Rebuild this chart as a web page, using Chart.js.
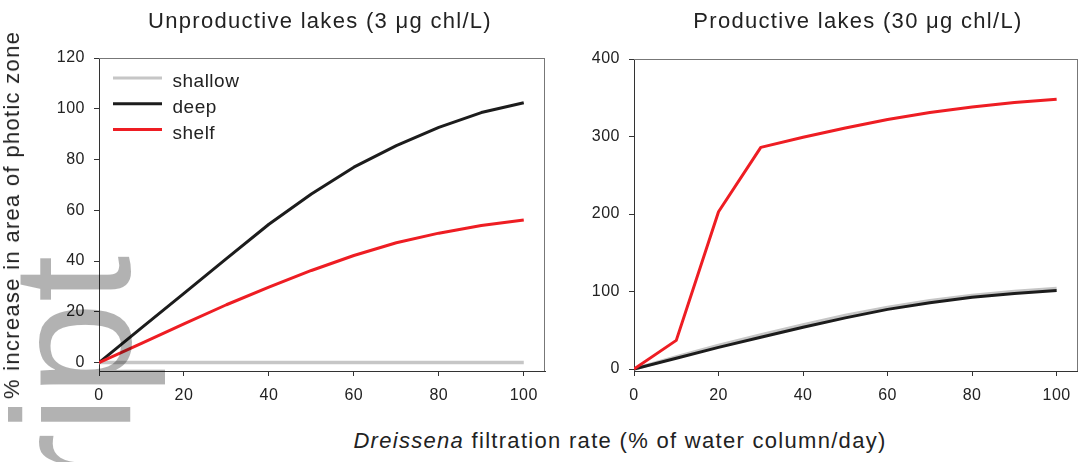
<!DOCTYPE html>
<html><head><meta charset="utf-8">
<script src="https://cdn.jsdelivr.net/npm/chart.js@4.4.1/dist/chart.umd.min.js"></script>
<style>
html,body{margin:0;padding:0;background:#fff;overflow:hidden;width:1078px;height:462px;}
body{position:relative;font-family:"Liberation Sans",Arial,sans-serif;color:#222;}
canvas{position:absolute;top:0;z-index:1;}
.t{position:absolute;font-size:22px;line-height:22px;letter-spacing:1.3px;white-space:nowrap;z-index:2;}
.ctr{transform:translateX(-50%);}
#ytitle{left:12.4px;top:215px;transform:translate(-50%,-50%) rotate(-90deg);}
#wm{position:absolute;left:-12.2px;top:489.3px;transform-origin:0 0;transform:rotate(-90deg);font-size:168px;line-height:168px;color:rgba(0,0,0,0.3);white-space:nowrap;z-index:3;pointer-events:none;}
</style></head>
<body>
<canvas id="c1" width="560" height="400" style="left:0px"></canvas>
<canvas id="c2" width="520" height="400" style="left:560px"></canvas>
<div class="t ctr" style="left:320px;top:10px">Unproductive lakes (3 μg chl/L)</div>
<div class="t ctr" style="left:858px;top:10px">Productive lakes (30 μg chl/L)</div>
<div class="t" id="ytitle">% increase in area of photic zone</div>
<div class="t ctr" style="left:620px;top:430px"><i>Dreissena</i> filtration rate (% of water column/day)</div>
<div id="wm">ript</div>
<script>
const xRates = [0,10,20,30,40,50,60,70,80,90,100];
const seriesLabels = ['shallow','deep','shelf'];
const unprodShallow = [0,0,0,0,0,0,0,0,0,0,0];
const unprodDeep = [0,13.7,27.3,41,54.5,66.4,77,85.5,92.7,98.5,102.4];
const unprodShelf = [0,7.6,15.3,22.8,29.7,36.3,42.2,47.2,51,54,56.2];
const prodShallow = [0,15.5,30.5,44,57,69,79.5,88,95,100,104];
const prodDeep = [0,14,28,41,54,66,77,85.5,92.5,97.5,101.5];
const prodShelf = [0,37,203,286,299,311,322,331,338,344,348];
const xTicks = [0,20,40,60,80,100];
const yTicksUnprod = [0,20,40,60,80,100,120];
const yTicksProd = [0,100,200,300,400];

const colors = ['#c6c6c6','#1c1c1c','#ee1d23'];
const widths = [3.5,3,3];
const FONT = 'Liberation Sans';

function pts(arr){ return xRates.map((x,i)=>({x:x,y:arr[i]})); }

const spacingPlugin = {
  id:'spacing',
  beforeDraw(chart){ chart.ctx.letterSpacing = '0.5px'; }
};
const framePlugin = {
  id:'frame',
  afterDraw(chart){
    const a = chart.chartArea, ctx = chart.ctx;
    ctx.save();
    ctx.strokeStyle = '#777'; ctx.lineWidth = 1;
    ctx.beginPath();
    ctx.moveTo(a.left, Math.round(a.top)+0.5);
    ctx.lineTo(a.right, Math.round(a.top)+0.5);
    ctx.moveTo(Math.round(a.right)-0.5, a.top);
    ctx.lineTo(Math.round(a.right)-0.5, a.bottom);
    ctx.stroke();
    ctx.restore();
  }
};
const legendPlugin = {
  id:'inlegend',
  afterDraw(chart, args, opts){
    if(!opts || !opts.show) return;
    const ctx = chart.ctx;
    ctx.save();
    ctx.letterSpacing = '0.5px';
    ctx.font = '19px "' + FONT + '"';
    ctx.textBaseline = 'alphabetic';
    ctx.textAlign = 'left';
    chart.data.datasets.forEach((ds,i)=>{
      const y = 78 + i*25.8;
      ctx.strokeStyle = ds.borderColor; ctx.lineWidth = 3;
      ctx.beginPath(); ctx.moveTo(113,y); ctx.lineTo(162,y); ctx.stroke();
      ctx.fillStyle = '#222';
      ctx.fillText(ds.label, 172.5, y+9);
    });
    ctx.restore();
  }
};

function makeChart(id, series, yMin, yMax, yTicks, yAxisWidth, padTop, padRight, showLegend){
  const datasets = series.map((s,i)=>({
    label: seriesLabels[i],
    data: pts(s),
    borderColor: colors[i],
    backgroundColor: colors[i],
    borderWidth: widths[i],
    pointRadius: 0,
    tension: 0,
    fill: false,
    order: 3 - i,
    borderCapStyle: 'butt',
    borderJoinStyle: 'round'
  }));
  const axisCommon = {
    grid:{drawOnChartArea:false, drawTicks:true, tickLength:5, color:'#333', tickColor:'#333', lineWidth:1},
    border:{display:true, color:'#333', width:1}
  };
  return new Chart(document.getElementById(id), {
    type:'line',
    data:{datasets},
    options:{
      responsive:false, animation:false, devicePixelRatio:1,
      layout:{padding:{top:padTop, right:padRight, left:0, bottom:0}},
      plugins:{legend:{display:false}, tooltip:{enabled:false}, title:{display:false}, inlegend:{show:showLegend}},
      scales:{
        x:Object.assign({
          type:'linear', min:0, max:105,
          afterBuildTicks(s){ s.ticks = xTicks.map(v=>({value:v})); },
          afterFit(s){ s.height = 29; },
          ticks:{color:'#222', font:{size:16, family:FONT}, padding:10, maxRotation:0, autoSkip:false}
        }, axisCommon),
        y:Object.assign({
          type:'linear', min:yMin, max:yMax,
          afterBuildTicks(s){ s.ticks = yTicks.map(v=>({value:v})); },
          afterFit(s){ s.width = yAxisWidth; },
          ticks:{color:'#222', font:{size:16, family:FONT}, padding:9, autoSkip:false}
        }, axisCommon)
      }
    },
    plugins:[spacingPlugin, framePlugin, legendPlugin]
  });
}

makeChart('c1', [unprodShallow, unprodDeep, unprodShelf], -3.3, 120, yTicksUnprod, 99, 58, 15, true);
makeChart('c2', [prodShallow, prodDeep, prodShelf], -2.5, 400, yTicksProd, 74, 59, 0, false);
</script>
</body></html>
